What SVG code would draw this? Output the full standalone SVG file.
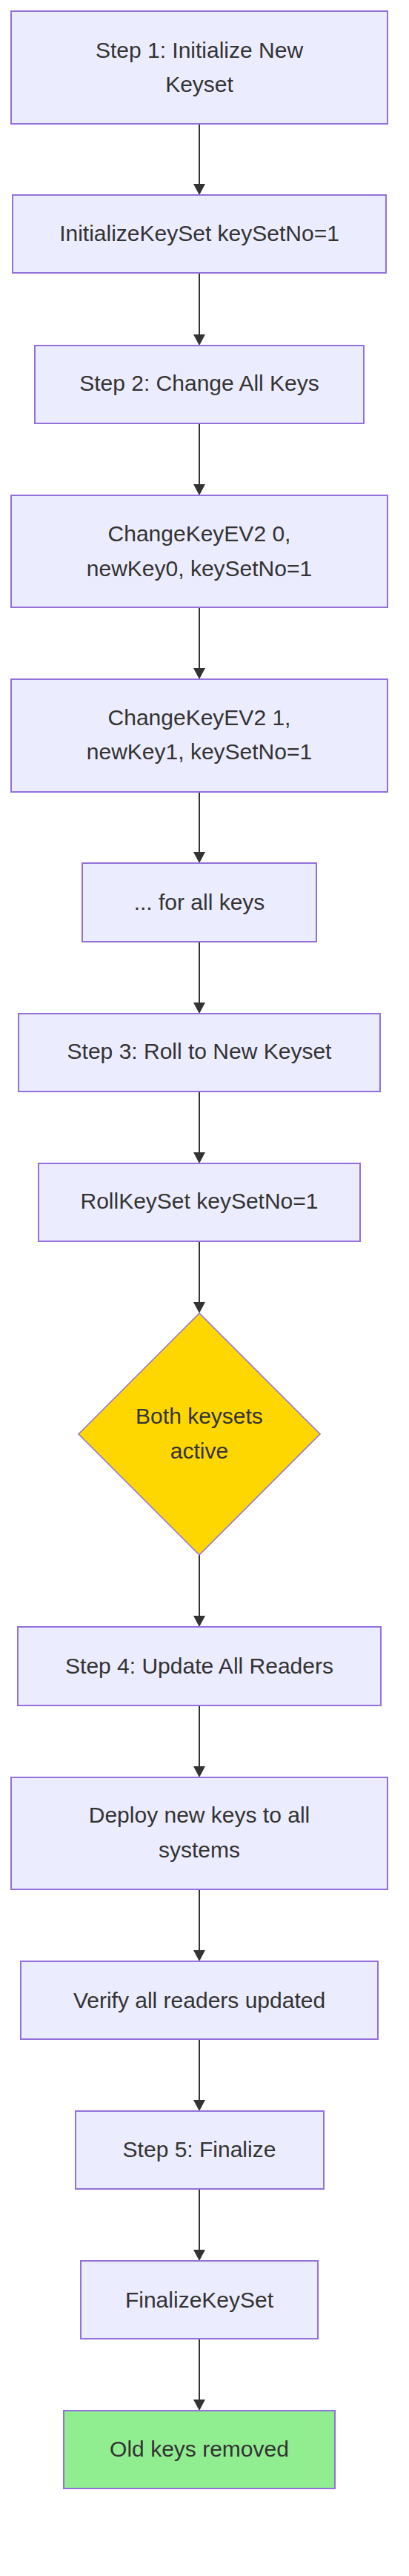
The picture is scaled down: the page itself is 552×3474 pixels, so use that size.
<svg xmlns="http://www.w3.org/2000/svg" width="552" height="3474" viewBox="0 0 552 3474">
<style>
.box{fill:#ECECFF;stroke:#9370DB;stroke-width:2}
.dia{fill:#FFD700;stroke:#9370DB;stroke-width:1.5}
.ok{fill:#90EE90;stroke:#9370DB;stroke-width:2}
.t{font-family:"Trebuchet MS","Liberation Sans",Arial,sans-serif;font-size:30px;fill:#333333;text-anchor:middle}
.e{stroke:#333333;stroke-width:2;fill:none}
</style>
<defs>
<marker id="arr" viewBox="0 0 10 10" refX="10" refY="5" markerWidth="8" markerHeight="8" markerUnits="userSpaceOnUse" orient="auto">
<path d="M0,0 L10,5 L0,10 z" fill="#333333"/>
</marker>
</defs>
<rect width="552" height="3474" fill="#FFFFFF"/>
<g id="edges">
<path class="e" d="M269,167 V248"/><path d="M261,248 L277,248 L269,263 z" fill="#333"/>
<path class="e" d="M269,368 V451"/><path d="M261,451 L277,451 L269,466 z" fill="#333"/>
<path class="e" d="M269,571 V653"/><path d="M261,653 L277,653 L269,668 z" fill="#333"/>
<path class="e" d="M269,819 V901"/><path d="M261,901 L277,901 L269,916 z" fill="#333"/>
<path class="e" d="M269,1068 V1149"/><path d="M261,1149 L277,1149 L269,1164 z" fill="#333"/>
<path class="e" d="M269,1270 V1352"/><path d="M261,1352 L277,1352 L269,1367 z" fill="#333"/>
<path class="e" d="M269,1472 V1554"/><path d="M261,1554 L277,1554 L269,1569 z" fill="#333"/>
<path class="e" d="M269,1674 V1756"/><path d="M261,1756 L277,1756 L269,1771 z" fill="#333"/>
<path class="e" d="M269,2097 V2179"/><path d="M261,2179 L277,2179 L269,2194 z" fill="#333"/>
<path class="e" d="M269,2300 V2382"/><path d="M261,2382 L277,2382 L269,2397 z" fill="#333"/>
<path class="e" d="M269,2548 V2630"/><path d="M261,2630 L277,2630 L269,2645 z" fill="#333"/>
<path class="e" d="M269,2750 V2832"/><path d="M261,2832 L277,2832 L269,2847 z" fill="#333"/>
<path class="e" d="M269,2952 V3034"/><path d="M261,3034 L277,3034 L269,3049 z" fill="#333"/>
<path class="e" d="M269,3154 V3236"/><path d="M261,3236 L277,3236 L269,3251 z" fill="#333"/>
</g>
<g id="n1"><rect class="box" x="15" y="15" width="508" height="152"/><text class="t" x="269" y="78">Step 1: Initialize New</text><text class="t" x="269" y="124">Keyset</text></g>
<g id="n2"><rect class="box" x="17" y="263" width="504" height="105"/><text class="t" x="269" y="325">InitializeKeySet keySetNo=1</text></g>
<g id="n3"><rect class="box" x="47" y="466" width="444" height="105"/><text class="t" x="269" y="527">Step 2: Change All Keys</text></g>
<g id="n4"><rect class="box" x="15" y="668" width="508" height="151"/><text class="t" x="269" y="730">ChangeKeyEV2 0,</text><text class="t" x="269" y="777">newKey0, keySetNo=1</text></g>
<g id="n5"><rect class="box" x="15" y="916" width="508" height="152"/><text class="t" x="269" y="978">ChangeKeyEV2 1,</text><text class="t" x="269" y="1024">newKey1, keySetNo=1</text></g>
<g id="n6"><rect class="box" x="111" y="1164" width="316" height="106"/><text class="t" x="269" y="1227">... for all keys</text></g>
<g id="n7"><rect class="box" x="25" y="1367" width="488" height="105"/><text class="t" x="269" y="1428">Step 3: Roll to New Keyset</text></g>
<g id="n8"><rect class="box" x="52" y="1569" width="434" height="105"/><text class="t" x="269" y="1630">RollKeySet keySetNo=1</text></g>
<g id="n9"><polygon class="dia" points="269,1771 432,1934 269,2097 106,1934"/><text class="t" x="269" y="1920">Both keysets</text><text class="t" x="269" y="1967">active</text></g>
<g id="n10"><rect class="box" x="24" y="2194" width="490" height="106"/><text class="t" x="269" y="2257">Step 4: Update All Readers</text></g>
<g id="n11"><rect class="box" x="15" y="2397" width="508" height="151"/><text class="t" x="269" y="2458">Deploy new keys to all</text><text class="t" x="269" y="2505">systems</text></g>
<g id="n12"><rect class="box" x="28" y="2645" width="482" height="105"/><text class="t" x="269" y="2708">Verify all readers updated</text></g>
<g id="n13"><rect class="box" x="102" y="2847" width="335" height="105"/><text class="t" x="269" y="2909">Step 5: Finalize</text></g>
<g id="n14"><rect class="box" x="109" y="3049" width="320" height="105"/><text class="t" x="269" y="3112">FinalizeKeySet</text></g>
<g id="n15"><rect class="ok" x="86" y="3251" width="366" height="105"/><text class="t" x="269" y="3313">Old keys removed</text></g>
</svg>
